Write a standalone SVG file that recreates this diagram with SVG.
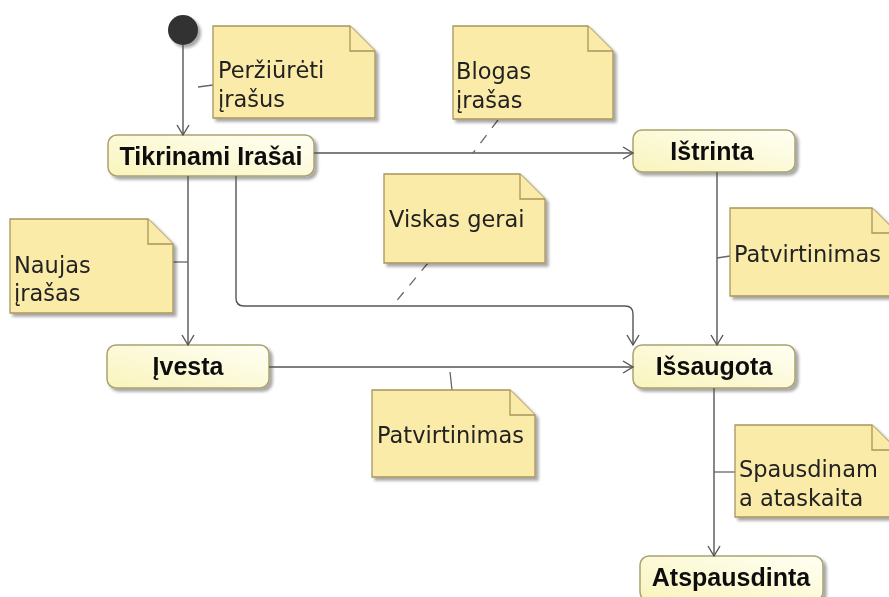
<svg xmlns="http://www.w3.org/2000/svg" width="889" height="597" viewBox="0 0 889 597">
  <defs>
    <linearGradient id="stateFill" x1="0" y1="1" x2="1" y2="0">
      <stop offset="0" stop-color="#F9F4BC"/>
      <stop offset="1" stop-color="#FFFFF4"/>
    </linearGradient>
    <filter id="shadow" x="-10%" y="-10%" width="130%" height="140%">
      <feGaussianBlur in="SourceAlpha" stdDeviation="1.5"/>
      <feOffset dx="3" dy="3" result="b"/>
      <feComponentTransfer><feFuncA type="linear" slope="0.35"/></feComponentTransfer>
      <feMerge><feMergeNode/><feMergeNode in="SourceGraphic"/></feMerge>
    </filter>
    <marker id="arrow" markerUnits="userSpaceOnUse" markerWidth="14" markerHeight="14" refX="11" refY="7" orient="auto">
      <path d="M1,1 L11,7 L1,13" fill="none" stroke="#555" stroke-width="1.4"/>
    </marker>
  </defs>
  <style>
    .state rect { fill: url(#stateFill); stroke: #A9A26E; stroke-width: 1.5; }
    .state text { font-family: "Liberation Sans", Arial, sans-serif; font-weight: bold; font-size: 25px; fill: #111; text-anchor: middle; }
    .note path.body { fill: #FBEBA8; stroke: #A8955C; stroke-width: 1.3; }
    .note path.fold { fill: #FBEBA8; stroke: #A8955C; stroke-width: 1.3; }
    .note text { font-family: "DejaVu Sans", sans-serif; font-size: 22.5px; fill: #222; }
    .edge { fill: none; stroke: #555; stroke-width: 1.4; }
    .link { fill: none; stroke: #666; stroke-width: 1.3; }
    .dashed { stroke-dasharray: 10 9; }
  </style>

  <!-- initial pseudo-state -->
  <g id="start">
    <circle cx="183" cy="30" r="15" fill="#333" filter="url(#shadow)"/>
  </g>

  <!-- states -->
  <g id="tikrinami" class="state" filter="url(#shadow)">
    <rect x="108" y="135" width="206" height="41" rx="9"/>
    <text x="211" y="165">Tikrinami Irašai</text>
  </g>
  <g id="istrinta" class="state" filter="url(#shadow)">
    <rect x="633" y="130" width="162" height="42" rx="9"/>
    <text x="712" y="160">Ištrinta</text>
  </g>
  <g id="ivesta" class="state" filter="url(#shadow)">
    <rect x="107" y="345" width="162" height="43" rx="9"/>
    <text x="188" y="375">Įvesta</text>
  </g>
  <g id="issaugota" class="state" filter="url(#shadow)">
    <rect x="633" y="345" width="162" height="43" rx="9"/>
    <text x="714" y="375">Išsaugota</text>
  </g>
  <g id="atspausdinta" class="state" filter="url(#shadow)">
    <rect x="640" y="556" width="183" height="45" rx="9"/>
    <text x="731" y="586">Atspausdinta</text>
  </g>

  <!-- transitions -->
  <g id="connectors">
    <path class="edge" d="M183,45 V135" marker-end="url(#arrow)"/>
    <path class="edge" d="M314,153 H633" marker-end="url(#arrow)"/>
    <path class="edge" d="M188,176 V345" marker-end="url(#arrow)"/>
    <path class="edge" d="M236,176 V298 Q236,306 244,306 H625 Q633,306 633,314 V345" marker-end="url(#arrow)"/>
    <path class="edge" d="M717,172 V345" marker-end="url(#arrow)"/>
    <path class="edge" d="M269,367 H633" marker-end="url(#arrow)"/>
    <path class="edge" d="M714,388 V556" marker-end="url(#arrow)"/>
    <!-- note anchors -->
    <path class="link" d="M198,87 L213,85"/>
    <path class="link dashed" d="M498,120 L473,153"/>
    <path class="link" d="M173,262 H188"/>
    <path class="link dashed" d="M428,263 L394,304"/>
    <path class="link" d="M717,258 L730,256"/>
    <path class="link" d="M450,372 L452,390"/>
    <path class="link" d="M714,472 H735"/>
  </g>

  <!-- notes -->
  <g id="note-perziureti" class="note" filter="url(#shadow)">
    <path class="body" d="M213,26 H350 L375,51 V118 H213 Z"/>
    <path class="fold" d="M350,26 V51 H375"/>
    <text x="218" y="78">Peržiūrėti</text>
    <text x="218" y="107">įrašus</text>
  </g>
  <g id="note-blogas" class="note" filter="url(#shadow)">
    <path class="body" d="M453,26 H588 L613,51 V119 H453 Z"/>
    <path class="fold" d="M588,26 V51 H613"/>
    <text x="456" y="79">Blogas</text>
    <text x="456" y="108">įrašas</text>
  </g>
  <g id="note-naujas" class="note" filter="url(#shadow)">
    <path class="body" d="M10,219 H148 L173,244 V313 H10 Z"/>
    <path class="fold" d="M148,219 V244 H173"/>
    <text x="14" y="273">Naujas</text>
    <text x="14" y="301">įrašas</text>
  </g>
  <g id="note-viskas" class="note" filter="url(#shadow)">
    <path class="body" d="M384,174 H520 L545,199 V263 H384 Z"/>
    <path class="fold" d="M520,174 V199 H545"/>
    <text x="389" y="227">Viskas gerai</text>
  </g>
  <g id="note-patvirtinimas-1" class="note" filter="url(#shadow)">
    <path class="body" d="M730,208 H872 L897,233 V296 H730 Z"/>
    <path class="fold" d="M872,208 V233 H897"/>
    <text x="734" y="262">Patvirtinimas</text>
  </g>
  <g id="note-patvirtinimas-2" class="note" filter="url(#shadow)">
    <path class="body" d="M372,390 H510 L535,415 V477 H372 Z"/>
    <path class="fold" d="M510,390 V415 H535"/>
    <text x="377" y="443">Patvirtinimas</text>
  </g>
  <g id="note-spausdinama" class="note" filter="url(#shadow)">
    <path class="body" d="M735,425 H872 L897,450 V517 H735 Z"/>
    <path class="fold" d="M872,425 V450 H897"/>
    <text x="739" y="477">Spausdinam</text>
    <text x="739" y="506">a ataskaita</text>
  </g>
</svg>
